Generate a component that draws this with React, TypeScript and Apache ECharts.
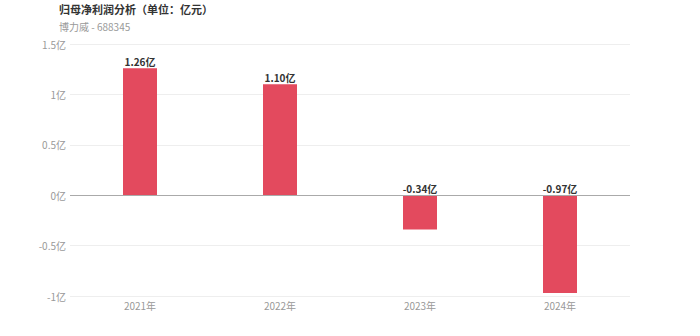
import React, { useEffect, useRef } from "react";
import * as echarts from "echarts";

const categories = ["2021年", "2022年", "2023年", "2024年"];
const values = [1.26, 1.10, -0.34, -0.97];
const titleText = "归母净利润分析（单位：亿元）";
const subText = "博力威 - 688345";

export default function App() {
  const ref = useRef<HTMLDivElement>(null);
  useEffect(() => {
    const chart = echarts.init(ref.current!, null, { renderer: "svg" });
    chart.setOption({
      animation: false,
      title: {
        text: titleText,
        subtext: subText,
        left: 59,
        top: 2,
        padding: 0,
        itemGap: 5,
        textStyle: { fontSize: 11, lineHeight: 13, fontWeight: "bold", color: "#333", fontFamily: "Noto Sans CJK SC" },
        subtextStyle: { fontSize: 10, lineHeight: 12, color: "#999", fontFamily: "Noto Sans CJK SC" },
      },
      grid: { left: 70, right: 70, top: 44, bottom: 40 },
      xAxis: {
        type: "category",
        data: categories,
        axisLine: { show: false },
        axisTick: { show: false },
        axisLabel: { color: "#999", fontSize: 10, margin: 4, fontFamily: "Noto Sans CJK SC" },
      },
      yAxis: {
        type: "value",
        min: -1,
        max: 1.5,
        interval: 0.5,
        axisLine: { show: false },
        axisTick: { show: false },
        splitLine: { lineStyle: { color: "#eee" } },
        axisLabel: {
          color: "#999",
          fontSize: 10,
          margin: 4,
          fontFamily: "Noto Sans CJK SC",
          formatter: (v: number) => v + "亿",
        },
      },
      series: [
        {
          type: "bar",
          data: values,
          barWidth: 34,
          itemStyle: { color: "#E34A5E" },
          label: {
            show: true,
            position: "top",
            distance: 2,
            color: "#333",
            fontSize: 10,
            fontWeight: "bold",
            fontFamily: "Noto Sans CJK SC",
            formatter: (p: any) => p.value.toFixed(2) + "亿",
          },
          markLine: {
            silent: true,
            symbol: "none",
            label: { show: false },
            lineStyle: { color: "#aaa", type: "solid", width: 1 },
            data: [{ yAxis: 0 }],
          },
        },
      ],
    });
    return () => chart.dispose();
  }, []);
  return (
    <div
      ref={ref}
      style={{ position: "absolute", left: 0, top: 0, width: 700, height: 336 }}
    />
  );
}
